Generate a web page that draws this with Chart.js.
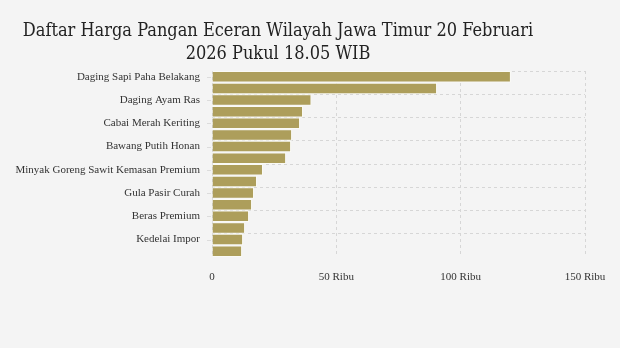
<!DOCTYPE html>
<html>
<head>
<meta charset="utf-8">
<script src="https://cdn.jsdelivr.net/npm/chart.js@4"></script>
<style>
  html, body { margin:0; padding:0; background:#f4f4f4; }
  #wrap { position:relative; width:620px; height:348px; background:#f4f4f4; }
  #title { position:absolute; left:0; top:18px; width:556px; text-align:center;
           font-family:"DejaVu Serif Condensed","DejaVu Serif",serif; font-size:18px; line-height:23px; color:#222; }
  canvas { position:absolute; left:0; top:0; }
</style>
</head>
<body>
<div id="wrap">
  <canvas id="c" width="620" height="348"></canvas>
  <div id="title">Daftar Harga Pangan Eceran Wilayah Jawa Timur 20 Februari<br>2026 Pukul 18.05 WIB</div>
</div>
<script>
const categories = [
  "Daging Sapi Paha Belakang",
  "Daging Ayam Kampung",
  "Daging Ayam Ras",
  "Bawang Merah",
  "Cabai Merah Keriting",
  "Cabai Merah Besar",
  "Bawang Putih Honan",
  "Telur Ayam Ras",
  "Minyak Goreng Sawit Kemasan Premium",
  "Gula Pasir Kemasan",
  "Gula Pasir Curah",
  "Minyak Goreng Curah",
  "Beras Premium",
  "Beras Medium",
  "Kedelai Impor",
  "Tepung Terigu"
];
const prices = [120200, 90500, 40000, 36600, 35400, 32200, 31800, 29800, 20500, 18100, 16900, 16100, 14900, 13300, 12500, 12100];
const xTickValues = [0, 50000, 100000, 150000];
const xTickLabels = ["0", "50 Ribu", "100 Ribu", "150 Ribu"];

const tickFont = { family: "'Liberation Serif', 'Times New Roman', serif", size: 11 };

const yTickMarks = {
  id: 'yTickMarks',
  afterDatasetsDraw(chart) {
    const ys = chart.scales.y, ctx = chart.ctx;
    ctx.save();
    ctx.strokeStyle = '#dcdcdc';
    ctx.lineWidth = 1;
    for (let i = 0; i < categories.length; i += 2) {
      const p = Math.round(ys.getPixelForTick(i)) + 0.5;
      ctx.beginPath();
      ctx.moveTo(chart.chartArea.left - 5, p);
      ctx.lineTo(chart.chartArea.left - 1, p);
      ctx.stroke();
    }
    ctx.restore();
  }
};

new Chart(document.getElementById('c'), {
  type: 'bar',
  data: {
    labels: categories,
    datasets: [{
      data: prices,
      backgroundColor: '#ad9e5b',
      borderColor: '#fafaf5',
      borderWidth: 1,
      barPercentage: 0.98,
      categoryPercentage: 1
    }]
  },
  options: {
    indexAxis: 'y',
    responsive: false,
    animation: false,
    layout: { padding: { top: 71, right: 35, left: 0, bottom: 0 } },
    plugins: { legend: { display: false }, tooltip: { enabled: false }, title: { display: false } },
    scales: {
      x: {
        min: 0, max: 150000,
        afterBuildTicks(s) { s.ticks = xTickValues.map(v => ({ value: v })); },
        ticks: {
          callback: (v) => xTickLabels[xTickValues.indexOf(v)],
          font: tickFont, color: '#333', padding: 14, maxRotation: 0
        },
        grid: { color: '#d6d6d6', lineWidth: 1, drawTicks: false },
        border: { display: false, dash: [3, 3] },
        afterFit(s) { s.height = 91; }
      },
      y: {
        ticks: {
          autoSkip: false,
          callback: (v, i) => (i % 2 === 0 ? categories[i] : ''),
          font: tickFont, color: '#333', padding: 12
        },
        grid: {
          offset: true,
          color: (c) => (c.index % 2 === 0 ? '#d6d6d6' : 'rgba(0,0,0,0)'),
          lineWidth: 1, drawTicks: false
        },
        border: { display: false, dash: [3, 3] },
        afterFit(s) { s.width = 212; }
      }
    }
  },
  plugins: [yTickMarks]
});
</script>
</body>
</html>
